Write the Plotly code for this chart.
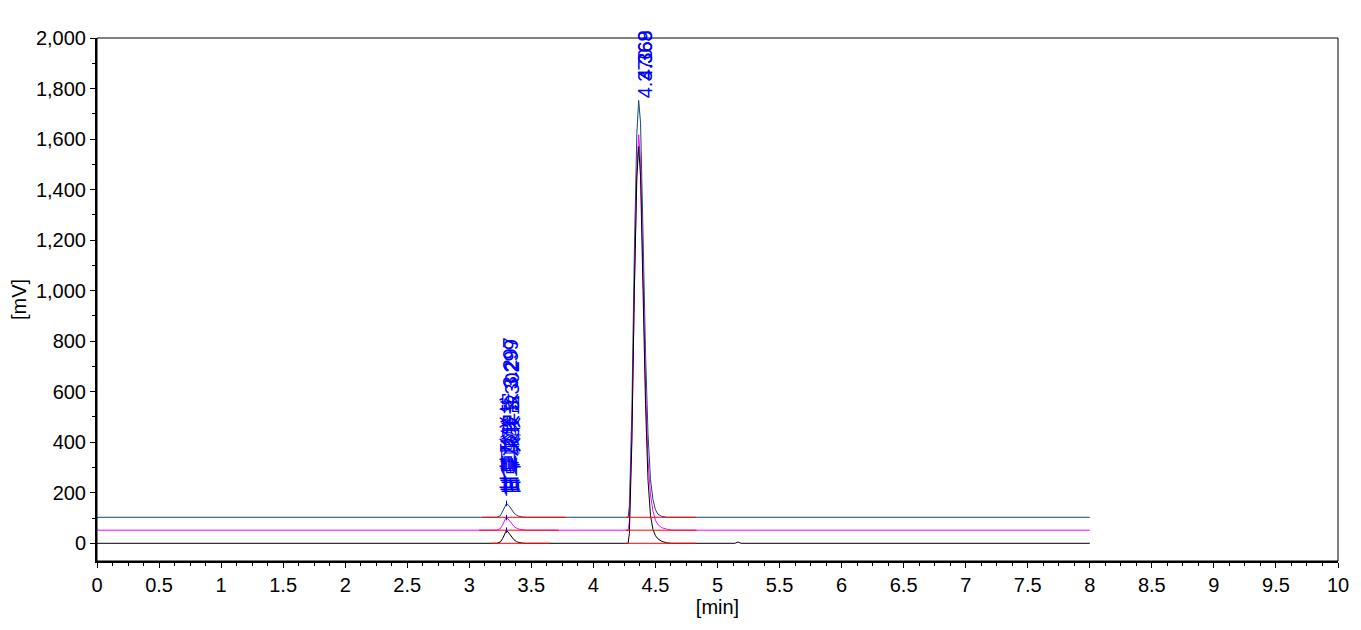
import plotly.graph_objects as go

# retention time grid [min] shared by the three runs
time = [0, 3.15, 3.22, 3.25, 3.27, 3.29, 3.30, 3.32, 3.34, 3.36, 3.38, 3.40, 3.43, 3.46,
        4.26, 4.28, 4.29, 4.31, 4.33, 4.35, 4.365, 4.38, 4.40, 4.42, 4.44, 4.46, 4.48,
        4.50, 4.52, 4.55, 4.59, 4.63, 5.14, 5.165, 5.19, 8.0]

# detector signal [mV], raw (before offset)
black = [0, 0, 0, 5, 20, 42, 52, 40, 25, 14, 7, 3, 1, 0,
         0, 0, 40, 400, 1000, 1450, 1570, 1450, 1000, 550, 250, 110, 55,
         30, 18, 8, 2, 0, 0, 5, 0, 0]
magenta = [0, 0, 0, 6, 22, 44, 50, 40, 26, 15, 8, 4, 2, 0,
           0, 0, 35, 380, 950, 1420, 1565, 1460, 1030, 580, 280, 140, 75,
           40, 22, 10, 4, 0, 0, 0, 0, 0]
blue = [0, 0, 0, 6, 24, 48, 55, 46, 30, 17, 9, 4, 1, 0,
        0, 0, 45, 420, 1050, 1520, 1650, 1560, 1120, 650, 330, 150, 70,
        30, 12, 4, 0, 0, 0, 0, 0, 0]

offsets = {'black': 0, 'magenta': 52, 'blue': 103}

# integration baselines (start, end) per run
base_black = [(3.17, 3.65), (4.26, 4.83)]
base_magenta = [(3.08, 3.72), (4.26, 4.83)]
base_blue = [(3.10, 3.78), (4.26, 4.83)]

# peak labels
small_labels = ['甘草酸单铵 3.297', '甘草酸铵盐 3.299', '甘草次酸 3.302']
main_labels = ['4.370', '4.368', '4.369']
main_label_lift = [0, 18, 18]
small_label_y = 190
main_label_y = 1752

fig = go.Figure()

runs = [('blue', blue, '#124A7C'), ('magenta', magenta, '#FF00FF'), ('black', black, '#000000')]
for name, sig, col in runs:
    off = offsets[name]
    fig.add_trace(go.Scatter(x=time, y=[v + off for v in sig], mode='lines',
                             line=dict(color=col, width=1), hoverinfo='skip'))

for name, bl in [('blue', base_blue), ('magenta', base_magenta), ('black', base_black)]:
    off = offsets[name]
    for a, b in bl:
        fig.add_trace(go.Scatter(x=[a, b], y=[off, off], mode='lines',
                                 line=dict(color='#FF0000', width=1), hoverinfo='skip'))

# apex markers of the small peaks
apex_x = [3.30, 3.30, 3.30]
apex_y = [blue[6] + offsets['blue'], magenta[6] + offsets['magenta'], black[6] + offsets['black']]
fig.add_trace(go.Scatter(x=apex_x, y=apex_y, mode='markers',
                         marker=dict(symbol='line-ns', size=4, line=dict(color='#0000FF', width=1)),
                         hoverinfo='skip'))

lab_font = dict(family='Liberation Sans, Noto Sans CJK SC', size=20, color='#0000FF')
for i, t in enumerate(small_labels):
    fig.add_annotation(x=3.30, y=small_label_y, text=t, textangle=-90, showarrow=False,
                       xanchor='center', yanchor='bottom', xshift=4 + i, yshift=-i * 2, font=lab_font)
for i, t in enumerate(main_labels):
    fig.add_annotation(x=4.365, y=main_label_y, text=t, textangle=-90, showarrow=False,
                       xanchor='center', yanchor='bottom', xshift=6, yshift=main_label_lift[i],
                       font=lab_font)

# thin frame on top/right
fig.add_shape(type='rect', xref='paper', yref='paper', x0=0, y0=0, x1=1, y1=1,
              line=dict(color='black', width=1))

tick_font = dict(family='Liberation Sans, Arial', size=20, color='black')
fig.update_layout(
    width=1361, height=630,
    margin=dict(l=89, r=31, t=30, b=77),
    plot_bgcolor='white', paper_bgcolor='white',
    showlegend=False,
    font=tick_font,
)
fig.update_xaxes(range=[0, 10], dtick=0.5, tick0=0, showgrid=False, zeroline=False,
                 showline=True, linecolor='black', linewidth=2, automargin=False,
                 ticks='outside', ticklen=5, tickcolor='black',
                 minor=dict(dtick=0.125, ticks='outside', ticklen=3, tickcolor='black'),
                 title=dict(text='[min]', font=tick_font, standoff=4),
                 tickfont=tick_font)
fig.update_yaxes(range=[-70, 2000], dtick=200, tick0=0, tickformat=',d',
                 showgrid=False, zeroline=False, automargin=False,
                 showline=True, linecolor='black', linewidth=2,
                 ticks='outside', ticklen=5, tickcolor='black',
                 minor=dict(dtick=100, ticks='outside', ticklen=3, tickcolor='black'),
                 title=dict(text='[mV]', font=tick_font, standoff=10),
                 tickfont=tick_font)

fig.write_html('out.html')
